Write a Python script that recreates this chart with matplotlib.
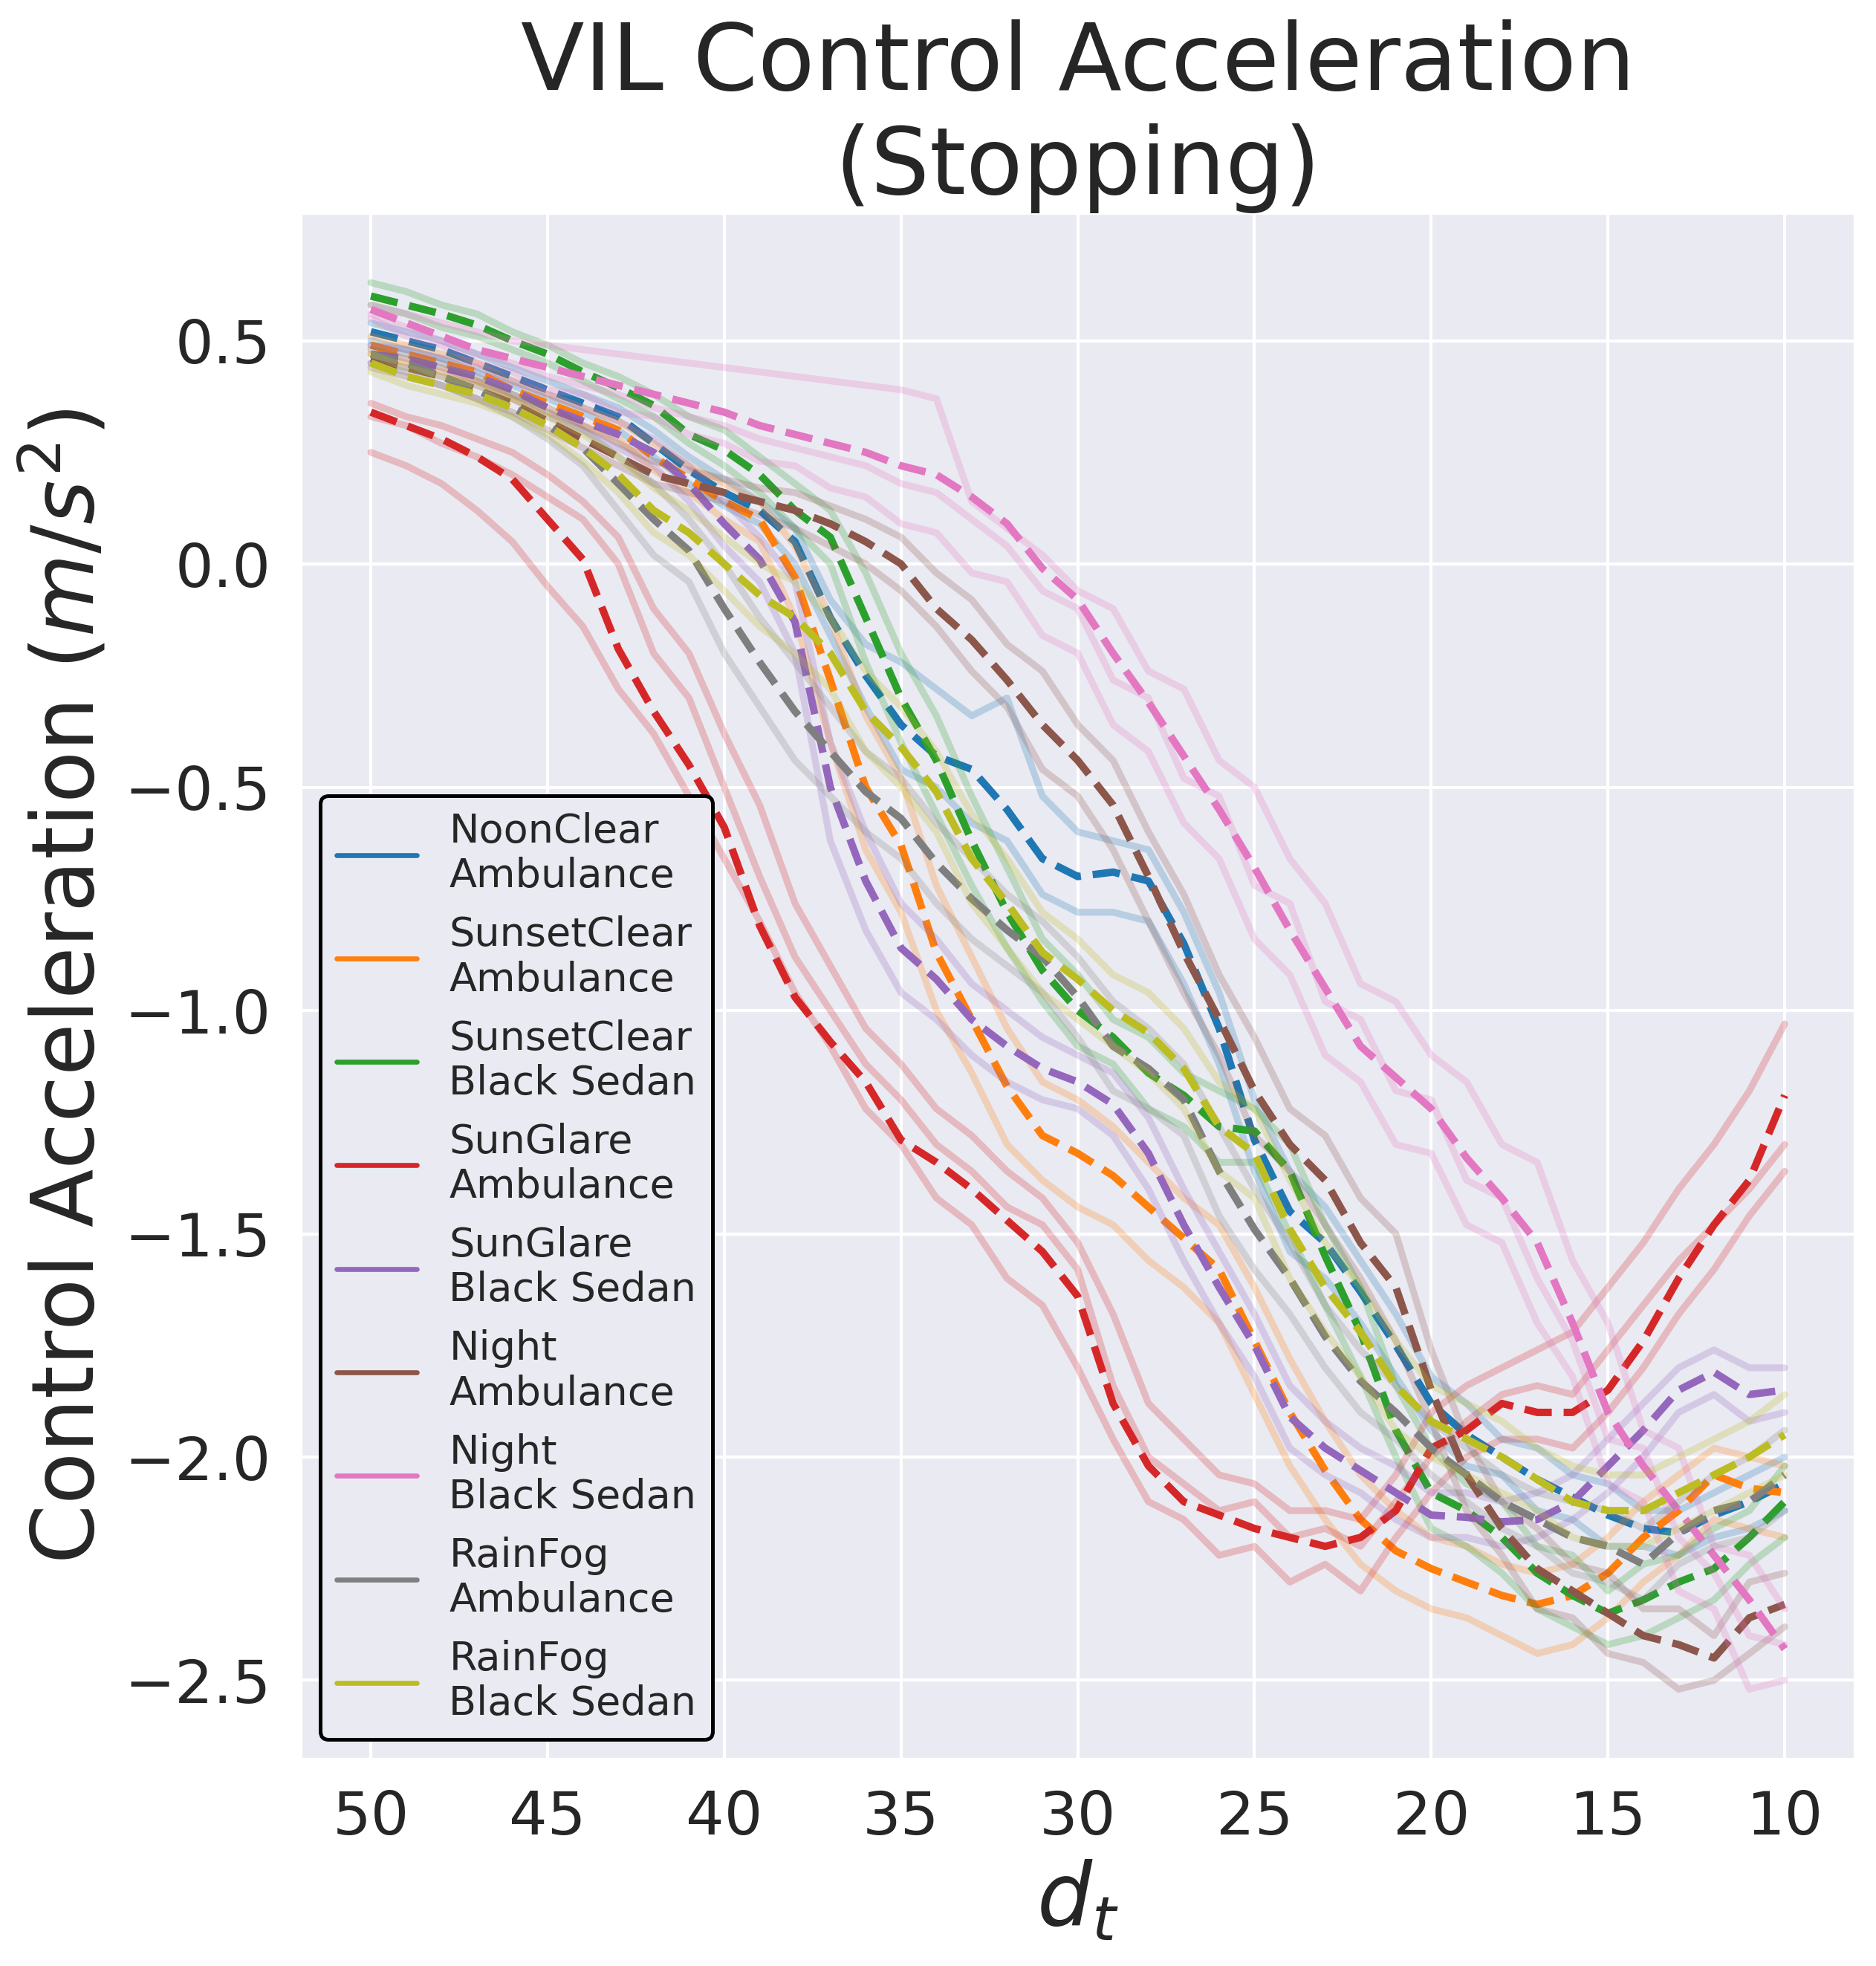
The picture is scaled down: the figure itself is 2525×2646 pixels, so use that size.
import matplotlib
matplotlib.use("Agg")
import matplotlib.pyplot as plt
from matplotlib.lines import Line2D
import seaborn as sns

# distance to target, 50 m down to 10 m
d_t = list(range(50, 9, -1))

labels = ["NoonClear\nAmbulance", "SunsetClear\nAmbulance", "SunsetClear\nBlack Sedan",
          "SunGlare\nAmbulance", "SunGlare\nBlack Sedan", "Night\nAmbulance",
          "Night\nBlack Sedan", "RainFog\nAmbulance", "RainFog\nBlack Sedan"]

# ---- mean control acceleration per condition (dashed)
noon_amb = [0.52, 0.50, 0.48, 0.45, 0.42, 0.39, 0.36, 0.33, 0.27, 0.21,
            0.16, 0.12, 0.05, -0.12, -0.25, -0.36, -0.43, -0.46, -0.55, -0.66,
            -0.70, -0.69, -0.71, -0.85, -1.04, -1.29, -1.45, -1.52, -1.63, -1.75,
            -1.88, -1.95, -2.00, -2.05, -2.09, -2.13, -2.16, -2.17, -2.13, -2.10,
            -2.06]
sunset_amb = [0.49, 0.47, 0.45, 0.43, 0.39, 0.36, 0.33, 0.30, 0.24, 0.19,
              0.14, 0.10, -0.03, -0.26, -0.50, -0.63, -0.87, -1.02, -1.17, -1.28,
              -1.32, -1.37, -1.44, -1.51, -1.58, -1.74, -1.90, -2.03, -2.14, -2.21,
              -2.25, -2.28, -2.31, -2.33, -2.31, -2.26, -2.18, -2.12, -2.04, -2.07,
              -2.08]
sunset_sed = [0.60, 0.58, 0.56, 0.535, 0.50, 0.47, 0.43, 0.395, 0.355, 0.29,
              0.255, 0.20, 0.12, 0.06, -0.12, -0.30, -0.44, -0.62, -0.78, -0.91,
              -1.00, -1.06, -1.14, -1.19, -1.26, -1.27, -1.36, -1.55, -1.72, -1.94,
              -2.08, -2.12, -2.18, -2.26, -2.31, -2.35, -2.32, -2.28, -2.25, -2.18,
              -2.10]
glare_amb = [0.34, 0.31, 0.28, 0.24, 0.19, 0.10, 0.01, -0.19, -0.33, -0.45,
             -0.59, -0.81, -0.97, -1.07, -1.16, -1.29, -1.34, -1.40, -1.47, -1.54,
             -1.64, -1.88, -2.02, -2.10, -2.13, -2.16, -2.18, -2.20, -2.18, -2.12,
             -1.98, -1.94, -1.88, -1.90, -1.90, -1.85, -1.74, -1.60, -1.48, -1.38,
             -1.19]
glare_sed = [0.47, 0.46, 0.44, 0.42, 0.39, 0.35, 0.32, 0.29, 0.25, 0.18,
             0.09, 0.01, -0.13, -0.50, -0.71, -0.86, -0.93, -1.02, -1.08, -1.13,
             -1.16, -1.21, -1.32, -1.48, -1.62, -1.75, -1.91, -1.98, -2.03, -2.08,
             -2.13, -2.135, -2.145, -2.14, -2.10, -2.02, -1.94, -1.85, -1.81, -1.86,
             -1.85]
night_amb = [0.46, 0.44, 0.42, 0.39, 0.36, 0.32, 0.28, 0.24, 0.20, 0.18,
             0.16, 0.14, 0.12, 0.09, 0.05, 0.00, -0.10, -0.17, -0.26, -0.36,
             -0.44, -0.54, -0.70, -0.87, -1.02, -1.18, -1.30, -1.38, -1.52, -1.62,
             -1.85, -2.04, -2.16, -2.25, -2.30, -2.35, -2.40, -2.42, -2.45, -2.36,
             -2.33]
night_sed = [0.57, 0.54, 0.51, 0.48, 0.46, 0.44, 0.42, 0.40, 0.38, 0.36,
             0.34, 0.31, 0.29, 0.27, 0.25, 0.22, 0.20, 0.15, 0.09, -0.01,
             -0.08, -0.20, -0.31, -0.43, -0.55, -0.68, -0.82, -0.95, -1.08, -1.15,
             -1.22, -1.33, -1.42, -1.52, -1.70, -1.90, -2.02, -2.12, -2.22, -2.32,
             -2.43]
rain_amb = [0.47, 0.45, 0.42, 0.39, 0.35, 0.31, 0.26, 0.18, 0.10, 0.03,
            -0.10, -0.22, -0.33, -0.42, -0.51, -0.57, -0.67, -0.75, -0.82, -0.88,
            -0.97, -1.08, -1.13, -1.20, -1.36, -1.49, -1.60, -1.73, -1.83, -1.90,
            -1.98, -2.04, -2.10, -2.14, -2.18, -2.20, -2.24, -2.17, -2.12, -2.10,
            -2.04]
rain_sed = [0.45, 0.42, 0.40, 0.38, 0.35, 0.31, 0.26, 0.20, 0.12, 0.07,
            0.00, -0.07, -0.12, -0.20, -0.33, -0.41, -0.51, -0.66, -0.76, -0.87,
            -0.93, -1.00, -1.05, -1.13, -1.26, -1.32, -1.49, -1.62, -1.72, -1.84,
            -1.92, -1.96, -2.00, -2.05, -2.10, -2.12, -2.12, -2.08, -2.04, -2.00,
            -1.95]

# ---- individual runs (faint)
noon_amb_runs = [
    [0.54, 0.52, 0.50, 0.47, 0.44, 0.41, 0.38, 0.35, 0.30, 0.24,
     0.19, 0.14, 0.08, -0.08, -0.18, -0.22, -0.28, -0.34, -0.30, -0.52,
     -0.60, -0.62, -0.64, -0.78, -0.96, -1.20, -1.36, -1.44, -1.56, -1.68,
     -1.82, -1.88, -1.96, -1.98, -2.04, -2.06, -2.12, -2.12, -2.08, -2.04,
     -2.00],
    [0.50, 0.48, 0.46, 0.43, 0.40, 0.37, 0.34, 0.30, 0.24, 0.18,
     0.13, 0.09, 0.00, -0.16, -0.32, -0.46, -0.50, -0.58, -0.62, -0.74,
     -0.78, -0.78, -0.80, -0.94, -1.12, -1.36, -1.54, -1.60, -1.70, -1.82,
     -1.94, -2.02, -2.04, -2.12, -2.14, -2.20, -2.20, -2.22, -2.18, -2.16,
     -2.12],
]
sunset_amb_runs = [
    [0.51, 0.49, 0.47, 0.45, 0.41, 0.38, 0.35, 0.32, 0.27, 0.22,
     0.18, 0.14, 0.04, -0.12, -0.34, -0.48, -0.72, -0.88, -1.04, -1.16,
     -1.20, -1.26, -1.34, -1.42, -1.48, -1.62, -1.78, -1.92, -2.04, -2.12,
     -2.18, -2.20, -2.24, -2.26, -2.24, -2.18, -2.10, -2.04, -1.98, -2.00,
     -2.02],
    [0.47, 0.45, 0.43, 0.41, 0.37, 0.34, 0.31, 0.28, 0.21, 0.16,
     0.10, 0.05, -0.12, -0.40, -0.64, -0.78, -1.00, -1.14, -1.30, -1.38,
     -1.44, -1.48, -1.56, -1.62, -1.70, -1.86, -2.02, -2.14, -2.24, -2.30,
     -2.34, -2.36, -2.40, -2.44, -2.42, -2.36, -2.28, -2.22, -2.14, -2.16,
     -2.18],
]
sunset_sed_runs = [
    [0.63, 0.61, 0.58, 0.56, 0.52, 0.49, 0.45, 0.42, 0.38, 0.33,
     0.30, 0.24, 0.18, 0.12, -0.02, -0.20, -0.34, -0.52, -0.68, -0.84,
     -0.92, -1.02, -1.06, -1.14, -1.18, -1.22, -1.30, -1.48, -1.62, -1.84,
     -1.98, -2.06, -2.10, -2.20, -2.22, -2.30, -2.24, -2.22, -2.16, -2.12,
     -2.02],
    [0.58, 0.56, 0.53, 0.51, 0.48, 0.45, 0.41, 0.37, 0.33, 0.27,
     0.22, 0.16, 0.08, 0.00, -0.22, -0.40, -0.56, -0.72, -0.86, -0.98,
     -1.08, -1.12, -1.22, -1.26, -1.34, -1.34, -1.50, -1.66, -1.82, -2.00,
     -2.16, -2.20, -2.26, -2.34, -2.38, -2.42, -2.40, -2.36, -2.32, -2.24,
     -2.18],
]
glare_amb_runs = [
    [0.36, 0.33, 0.31, 0.28, 0.25, 0.20, 0.14, 0.06, -0.10, -0.20,
     -0.38, -0.54, -0.76, -0.90, -1.04, -1.12, -1.22, -1.28, -1.36, -1.42,
     -1.52, -1.68, -1.88, -1.96, -2.04, -2.06, -2.12, -2.12, -2.14, -2.04,
     -1.90, -1.84, -1.80, -1.76, -1.72, -1.62, -1.52, -1.40, -1.30, -1.18,
     -1.03],
    [0.25, 0.22, 0.18, 0.12, 0.05, -0.05, -0.14, -0.28, -0.38, -0.52,
     -0.66, -0.80, -0.96, -1.08, -1.22, -1.30, -1.42, -1.48, -1.60, -1.66,
     -1.80, -1.96, -2.10, -2.14, -2.22, -2.20, -2.28, -2.24, -2.30, -2.18,
     -2.08, -2.00, -1.96, -1.96, -1.98, -1.90, -1.80, -1.68, -1.58, -1.46,
     -1.36],
    [0.33, 0.31, 0.27, 0.24, 0.20, 0.15, 0.10, 0.00, -0.20, -0.30,
     -0.50, -0.70, -0.88, -1.00, -1.12, -1.20, -1.30, -1.36, -1.44, -1.48,
     -1.58, -1.84, -2.00, -2.06, -2.12, -2.10, -2.18, -2.16, -2.20, -2.10,
     -2.00, -1.92, -1.86, -1.84, -1.86, -1.76, -1.66, -1.56, -1.48, -1.40,
     -1.30],
]
glare_sed_runs = [
    [0.49, 0.48, 0.46, 0.44, 0.41, 0.38, 0.35, 0.32, 0.28, 0.22,
     0.14, 0.06, -0.04, -0.40, -0.60, -0.76, -0.84, -0.94, -1.00, -1.06,
     -1.10, -1.14, -1.24, -1.40, -1.54, -1.68, -1.84, -1.92, -1.98, -2.02,
     -2.08, -2.08, -2.10, -2.08, -2.04, -1.96, -1.88, -1.80, -1.76, -1.80,
     -1.80],
    [0.45, 0.44, 0.42, 0.40, 0.37, 0.33, 0.30, 0.26, 0.22, 0.14,
     0.04, -0.04, -0.20, -0.62, -0.82, -0.96, -1.02, -1.10, -1.16, -1.20,
     -1.22, -1.28, -1.40, -1.56, -1.70, -1.82, -1.98, -2.04, -2.08, -2.14,
     -2.18, -2.18, -2.20, -2.18, -2.14, -2.08, -2.00, -1.90, -1.86, -1.92,
     -1.90],
]
night_amb_runs = [
    [0.48, 0.46, 0.44, 0.41, 0.38, 0.35, 0.31, 0.27, 0.23, 0.21,
     0.19, 0.17, 0.16, 0.13, 0.10, 0.06, -0.02, -0.08, -0.18, -0.24,
     -0.36, -0.44, -0.60, -0.74, -0.92, -1.06, -1.22, -1.28, -1.42, -1.50,
     -1.76, -1.96, -2.10, -2.16, -2.24, -2.26, -2.34, -2.34, -2.40, -2.28,
     -2.26],
    [0.44, 0.42, 0.40, 0.37, 0.34, 0.30, 0.26, 0.22, 0.18, 0.16,
     0.14, 0.11, 0.08, 0.04, 0.00, -0.06, -0.14, -0.24, -0.32, -0.46,
     -0.52, -0.64, -0.80, -0.96, -1.10, -1.28, -1.36, -1.48, -1.60, -1.74,
     -1.92, -2.12, -2.22, -2.34, -2.36, -2.44, -2.46, -2.52, -2.50, -2.44,
     -2.38],
]
night_sed_runs = [
    [0.58, 0.56, 0.54, 0.52, 0.50, 0.49, 0.48, 0.47, 0.46, 0.45,
     0.44, 0.43, 0.42, 0.41, 0.40, 0.39, 0.37, 0.14, 0.08, 0.02,
     -0.06, -0.10, -0.24, -0.28, -0.44, -0.50, -0.66, -0.76, -0.94, -0.98,
     -1.10, -1.16, -1.30, -1.34, -1.56, -1.70, -1.94, -1.98, -2.20, -2.22,
     -2.34],
    [0.55, 0.51, 0.49, 0.45, 0.43, 0.39, 0.38, 0.34, 0.33, 0.29,
     0.27, 0.23, 0.22, 0.17, 0.15, 0.09, 0.07, -0.02, -0.04, -0.16,
     -0.20, -0.36, -0.42, -0.58, -0.66, -0.84, -0.92, -1.10, -1.16, -1.30,
     -1.32, -1.48, -1.52, -1.70, -1.82, -2.06, -2.10, -2.30, -2.34, -2.52,
     -2.50],
    [0.56, 0.53, 0.50, 0.47, 0.45, 0.42, 0.40, 0.38, 0.35, 0.33,
     0.31, 0.28, 0.26, 0.24, 0.22, 0.18, 0.16, 0.10, 0.04, -0.06,
     -0.10, -0.26, -0.30, -0.48, -0.52, -0.72, -0.76, -0.98, -1.02, -1.18,
     -1.20, -1.38, -1.42, -1.60, -1.74, -1.96, -1.98, -2.18, -2.26, -2.40,
     -2.42],
]
rain_amb_runs = [
    [0.49, 0.47, 0.45, 0.42, 0.38, 0.34, 0.30, 0.24, 0.18, 0.10,
     0.00, -0.12, -0.22, -0.32, -0.42, -0.48, -0.58, -0.66, -0.74, -0.80,
     -0.88, -0.98, -1.04, -1.12, -1.26, -1.40, -1.52, -1.66, -1.76, -1.84,
     -1.92, -1.98, -2.04, -2.08, -2.10, -2.12, -2.16, -2.10, -2.04, -2.00,
     -1.94],
    [0.45, 0.43, 0.40, 0.37, 0.33, 0.28, 0.22, 0.12, 0.02, -0.04,
     -0.20, -0.32, -0.44, -0.52, -0.60, -0.66, -0.76, -0.84, -0.90, -0.96,
     -1.06, -1.18, -1.22, -1.28, -1.46, -1.58, -1.68, -1.80, -1.90, -1.96,
     -2.04, -2.10, -2.16, -2.20, -2.26, -2.28, -2.32, -2.24, -2.20, -2.18,
     -2.12],
]
rain_sed_runs = [
    [0.47, 0.44, 0.42, 0.40, 0.37, 0.33, 0.29, 0.24, 0.17, 0.12,
     0.06, 0.00, -0.04, -0.12, -0.24, -0.32, -0.42, -0.56, -0.66, -0.78,
     -0.84, -0.92, -0.96, -1.04, -1.16, -1.22, -1.38, -1.52, -1.62, -1.74,
     -1.84, -1.88, -1.92, -1.98, -2.02, -2.04, -2.04, -2.00, -1.96, -1.92,
     -1.86],
    [0.43, 0.40, 0.38, 0.36, 0.33, 0.29, 0.23, 0.16, 0.07, 0.02,
     -0.06, -0.14, -0.20, -0.28, -0.42, -0.50, -0.60, -0.76, -0.86, -0.96,
     -1.02, -1.08, -1.14, -1.22, -1.36, -1.42, -1.60, -1.72, -1.82, -1.94,
     -2.00, -2.04, -2.08, -2.12, -2.18, -2.20, -2.20, -2.16, -2.12, -2.08,
     -2.04],
]

means = [noon_amb, sunset_amb, sunset_sed, glare_amb, glare_sed,
         night_amb, night_sed, rain_amb, rain_sed]
runs = [noon_amb_runs, sunset_amb_runs, sunset_sed_runs, glare_amb_runs, glare_sed_runs,
        night_amb_runs, night_sed_runs, rain_amb_runs, rain_sed_runs]

sns.set_theme(style="darkgrid")
plt.rcParams['font.family'] = ['DejaVu Sans']

colors = sns.color_palette("tab10", 9)

fig, ax = plt.subplots(figsize=(2525 / 300, 2646 / 300), dpi=300)
fig.subplots_adjust(left=0.160, right=0.989, bottom=0.105, top=0.892)

for col, mean, cond_runs in zip(colors, means, runs):
    for r in cond_runs:
        ax.plot(d_t, r, color=col, alpha=0.25, lw=2.2)
    ax.plot(d_t, mean, color=col, ls='--', lw=2.4)

ax.invert_xaxis()
ax.set_xticks([50, 45, 40, 35, 30, 25, 20, 15, 10])
ax.set_yticks([0.5, 0.0, -0.5, -1.0, -1.5, -2.0, -2.5])
ax.tick_params(labelsize=19.5)

ax.set_title("VIL Control Acceleration\n(Stopping)", fontsize=30)
ax.set_xlabel("$d_t$", fontsize=28)
ax.set_ylabel("Control Acceleration ($m/s^2$)", fontsize=27.5)

handles = [Line2D([0], [0], color=c, lw=1.6) for c in colors]
leg = ax.legend(handles, labels, loc='lower left', fontsize=13,
                frameon=True, facecolor='#EAEAF2', edgecolor='black', framealpha=1)
leg.get_frame().set_linewidth(1.2)

fig.savefig("out.png", dpi=300)
